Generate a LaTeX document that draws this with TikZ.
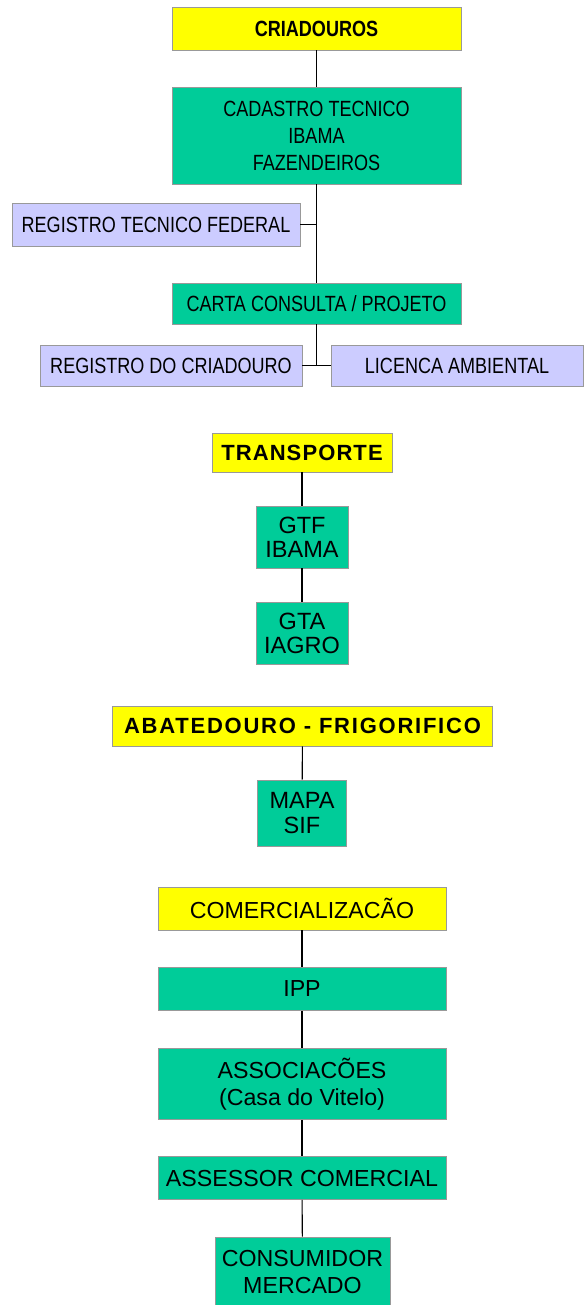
\documentclass[tikz,border=0pt]{standalone}
\usepackage{fontspec}
\setmainfont{Liberation Sans}
\newfontfamily\narrowfont[FakeStretch=0.82]{Liberation Sans}
\usepackage{tikz}

\definecolor{headyellow}{HTML}{FFFF00}
\definecolor{boxgreen}{HTML}{00CC99}
\definecolor{boxlilac}{HTML}{CCCCFF}

\begin{document}
\begin{tikzpicture}[x=1pt,y=-1pt,line width=1.1pt,
                    base box/.style={rectangle,draw=gray!80,line width=0.9pt,inner sep=0pt,align=center},
                    head box/.style={base box,fill=headyellow},
                    green box/.style={base box,fill=boxgreen},
                    side box/.style={base box,fill=boxlilac},
                    narrow/.style={font=\narrowfont\fontsize{22}{27}\selectfont},
                    wide/.style={font=\fontsize{23.2}{27}\selectfont}]
    \useasboundingbox (0,0) rectangle (584,1305);

    % criadouros
    \node[head box,narrow,minimum width=289pt,minimum height=43pt] (cria) at (316.5,28.5) {\bfseries CRIADOUROS};
    \node[green box,narrow,minimum width=289pt,minimum height=97pt] (cad) at (316.5,135.5) {CADASTRO TECNICO\\IBAMA\\FAZENDEIROS};
    \node[side box,narrow,minimum width=288pt,minimum height=43pt] (rtf) at (156,224.5) {REGISTRO TECNICO FEDERAL};
    \node[green box,narrow,minimum width=289pt,minimum height=41pt] (carta) at (316.5,303.5) {CARTA CONSULTA / PROJETO};
    \node[side box,narrow,minimum width=262pt,minimum height=41pt] (reg) at (171,365.5) {REGISTRO DO CRIADOURO};
    \node[side box,narrow,minimum width=252pt,minimum height=41pt] (lic) at (457,365.5) {LICENCA AMBIENTAL};

    \draw (cria) -- (cad);
    \draw (cad) -- (carta);
    \draw (rtf) -- (rtf -| cad);
    \draw (carta) -- (carta |- reg);
    \draw (reg) -- (lic);

    % transporte
    \node[head box,font=\fontsize{22}{27}\selectfont\addfontfeatures{LetterSpace=5},minimum width=180pt,minimum height=39pt] (trans) at (302,452.5) {\bfseries TRANSPORTE};
    \node[green box,font=\fontsize{23.5}{24}\selectfont,minimum width=92pt,minimum height=62pt] (gtf) at (302,537) {GTF\\IBAMA};
    \node[green box,font=\fontsize{23.5}{24}\selectfont,minimum width=92pt,minimum height=62pt] (gta) at (302,633.5) {GTA\\IAGRO};

    \draw (trans) -- (gtf);
    \draw (gtf) -- (gta);

    % abatedouro
    \node[head box,font=\fontsize{22}{27}\selectfont\addfontfeatures{LetterSpace=8},minimum width=380pt,minimum height=40pt] (abat) at (302.5,726) {\bfseries ABATEDOURO - FRIGORIFICO};
    \node[green box,font=\fontsize{23.5}{25}\selectfont,minimum width=89pt,minimum height=66pt] (mapa) at (302,813) {MAPA\\SIF};

    \draw (abat) -- (mapa);

    % comercializacao
    \node[head box,wide,minimum width=288pt,minimum height=43pt] (com) at (302,908.5) {COMERCIALIZACÃO};
    \node[green box,wide,minimum width=288pt,minimum height=43pt] (ipp) at (302,989) {IPP};
    \node[green box,wide,minimum width=288pt,minimum height=71pt] (assoc) at (302,1084) {ASSOCIACÕES\\(Casa do Vitelo)};
    \node[green box,wide,minimum width=288pt,minimum height=43pt] (asses) at (302,1178) {ASSESSOR COMERCIAL};
    \node[green box,wide,minimum width=175pt,minimum height=70pt] (cons) at (302.5,1272) {CONSUMIDOR\\MERCADO};

    \draw (com) -- (ipp);
    \draw (ipp) -- (assoc);
    \draw (assoc) -- (asses);
    \draw (asses) -- (cons);
\end{tikzpicture}
\end{document}
